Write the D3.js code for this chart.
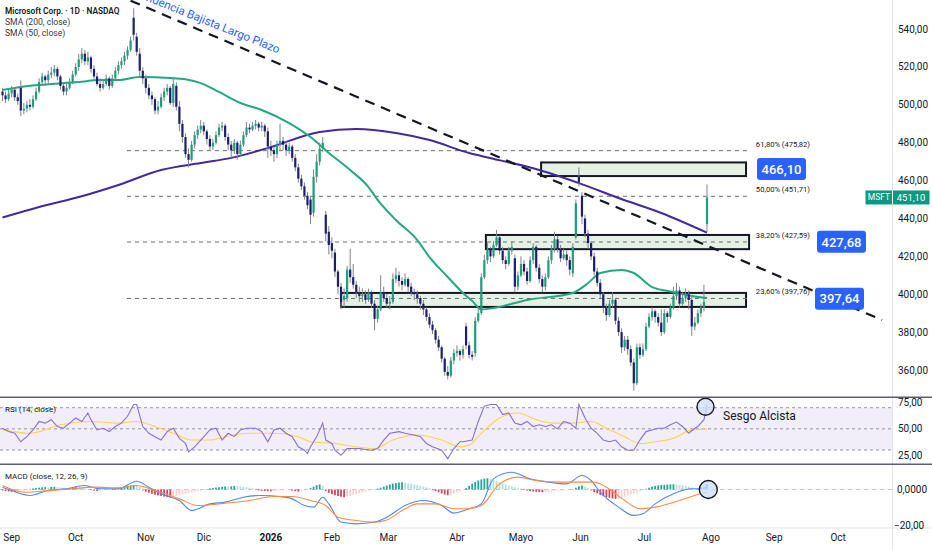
<!DOCTYPE html>
<html>
<head>
<meta charset="utf-8">
<script src="https://cdn.jsdelivr.net/npm/d3@7"></script>
<style>
  html, body { margin: 0; padding: 0; background: #fff; }
  svg { display: block; font-family: Roboto, "Noto Sans", sans-serif; }
</style>
</head>
<body>
<svg id="chart" width="932" height="550"></svg>
<script>
// daily candles, one entry per trading day (Sep 2025 -> end of Jul 2026)
const opens = [
  507,505,503,506,508,504,509,497,498,500, 499,503,507,512,515,513,516,517,519,515,
  510,507,509,512,516,520,524,527,523,525, 519,515,511,509,511,514,510,514,518,521,
  523,526,529,546,536,527,518,514,509,505, 503,497,499,504,507,509,501,510,499,490,
  483,474,471,479,484,487,489,486,482,478, 480,484,488,489,483,479,476,480,474,479,
  484,488,487,489,490,488,489,486,478,476, 474,479,481,479,476,478,472,467,461,457,
  452,450,443,462,470,477,442,433,427,422, 412,404,397,398,413,409,405,401,399,400,
  397,401,395,387,392,401,398,395,396,408, 410,407,405,408,404,401,400,398,395,392,
  388,384,381,376,372,366,359,357,365,369, 370,368,383,373,368,369,386,390,409,418,
  424,420,426,430,423,418,416,423,419,404, 410,416,412,407,418,425,414,408,404,409,
  418,424,429,424,419,421,418,411,430,462, 452,440,432,427,420,412,406,400,393,389,
  395,397,386,380,372,376,371,364,353,372, 368,371,383,388,391,388,385,380,390,388,
  393,399,402,395,398,400,397,383,385,390, 393,437
];
const highs = [
  509,507,508,510,509,506,513,501,502,503, 505,509,514,517,516,518,520,521,520,516,
  512,511,514,518,522,527,530,529,528,526, 521,517,514,513,516,515,516,520,523,525,
  528,531,536,551,538,530,520,516,511,507, 504,502,506,509,511,510,514,512,502,492,
  485,477,481,486,489,492,491,487,484,482, 486,490,491,490,485,481,482,481,481,486,
  491,490,491,492,491,491,490,488,481,478, 481,490,483,481,480,479,474,469,463,459,
  454,452,466,474,480,483,444,436,430,424, 413,406,403,415,424,416,407,404,403,402,
  403,402,397,394,410,404,400,399,411,414, 412,409,411,409,406,403,402,399,397,393,
  390,386,382,378,373,367,362,367,371,373, 371,373,385,375,370,388,393,411,421,427,
  425,428,434,431,425,420,425,428,421,412, 420,418,414,420,427,426,416,410,411,420,
  426,433,431,426,424,423,420,427,450,467, 454,442,434,428,422,414,408,401,395,397,
  401,398,388,382,378,378,373,366,374,374, 374,385,390,393,392,390,392,392,391,395,
  404,406,404,401,403,402,399,388,392,395, 405,458
];
const lows = [
  502,501,502,504,502,500,494,495,496,497, 498,502,506,510,510,511,514,515,513,508,
  505,505,508,511,515,518,522,521,521,517, 513,510,507,508,510,508,509,513,516,519,
  521,524,528,534,526,515,511,506,503,500, 495,495,498,502,505,500,499,497,486,480,
  472,467,470,477,482,485,484,479,476,476, 479,483,486,481,476,472,474,471,473,478,
  483,485,486,487,486,486,483,472,473,470, 472,476,476,473,474,470,465,459,455,450,
  445,437,441,459,468,475,428,421,419,409, 400,392,393,396,406,403,398,396,396,395,
  396,393,381,385,391,396,393,392,395,406, 404,402,404,401,399,397,395,392,389,386,
  382,379,374,370,364,357,355,356,363,367, 365,366,371,366,365,367,385,389,408,416,
  417,419,425,421,416,413,415,421,401,402, 409,410,405,406,416,412,406,401,402,408,
  416,422,422,417,418,415,410,409,429,457, 437,430,424,418,410,404,398,390,386,388,
  393,384,378,369,370,368,362,349,352,366, 367,370,382,386,385,383,378,379,385,387,
  392,397,393,394,396,392,378,381,384,388, 391,433
];
const closes = [
  505,503,506,508,504,502,497,498,500,499, 503,507,512,515,513,516,517,519,515,510,
  507,509,512,516,520,524,527,523,525,519, 515,511,509,511,514,510,514,518,521,523,
  526,529,534,537,528,518,514,509,505,503, 497,499,504,507,509,501,511,499,490,483,
  474,471,479,484,487,489,486,482,478,480, 484,488,489,483,479,476,480,474,479,484,
  488,487,489,490,488,489,486,478,476,474, 479,481,479,476,478,472,467,461,457,452,
  447,442,462,470,477,480,432,426,423,412, 404,396,399,413,409,405,401,399,400,397,
  401,395,387,392,401,398,395,396,408,410, 407,405,408,404,401,400,398,395,392,388,
  384,381,376,372,366,359,357,365,369,370, 368,371,373,368,367,386,390,409,418,424,
  420,426,430,423,418,416,423,425,404,410, 416,412,407,418,425,414,408,404,409,418,
  424,429,424,419,421,418,413,425,448,459, 441,432,427,420,412,406,400,393,389,395,
  397,386,380,372,376,371,364,353,372,368, 371,383,388,391,388,385,380,390,388,393,
  399,402,395,398,400,397,383,385,390,393, 396,451.1
];

// moving averages as [bar, value]
const sma200 = [[0,440.5],[12,446.1],[25,451.3],[38,457.7],[52,465.6],[65,469.3],[75,472],[88,477.7],
  [104,485.7],[116,487.2],[129,485.1],[140,481.4],[153,474.6],[157,473],[176,465.6],[189,458.7],
  [202,450.8],[216,442.9],[231,432.5]];
const sma50 = [[0,507.8],[6,509.4],[12,510.5],[25,512.1],[32,513.1],[38,513.1],[45,514.7],[55,514.2],
  [60,513.5],[65,511.5],[71,506.8],[78,501],[85,497.3],[94,490.4],[101,483],[107,474.6],[114,465.6],
  [120,456.6],[123,449.8],[129,439.2],[136,428.6],[140,419.6],[146,409.1],[151,400.7],[154,396.5],
  [157,392],[161,392.7],[172,397],[187,400.7],[192,405.9],[196,411.2],[203,412.8],[207,411.2],
  [213,403.8],[220,401.2],[226,399.1],[231,398]];

// RSI (14) and its moving average
const rsi = [[0,50.6],[2,47.4],[4,45.8],[6,37.8],[8,42.6],[10,49],[12,57],[14,55.4],[16,58.7],[18,52.2],
  [20,50.6],[22,55.4],[24,60.3],[26,57],[28,65],[29,58.7],[31,49],[33,50.6],[35,47.4],[37,52.2],
  [39,55.4],[41,61.9],[43,73],[44,73],[46,52.2],[48,45.8],[50,42.6],[52,39.4],[54,47.4],[56,50.6],
  [58,41],[60,36.2],[61,28.2],[63,33],[65,39.4],[67,45.8],[68,49],[70,50.6],[72,39.4],[74,45.8],
  [76,42.6],[78,49],[80,50.6],[83,50.6],[85,47.4],[87,37.8],[89,49],[91,50.6],[93,45.8],[95,42.6],
  [97,33],[99,29.8],[100,26.6],[101,33],[103,42.6],[105,55.4],[106,39.4],[108,36.2],[109,29.8],
  [111,25],[113,31.4],[115,31.4],[117,31.4],[119,30.4],[121,29.8],[123,31.4],[125,39.4],[127,45.8],
  [130,47.4],[132,45.8],[135,44.2],[137,42.6],[139,36.2],[141,33],[144,29.8],[146,21.8],[148,31.4],
  [150,37.8],[151,37.8],[154,39.4],[156,57],[158,71.5],[160,73],[162,73],[164,63.5],[166,65],
  [168,55.4],[170,53.8],[172,57],[174,52.2],[176,53.8],[178,52.2],[180,53.8],[182,50],[184,57],
  [186,55.4],[188,50.6],[189,73],[191,60.3],[193,50.6],[195,45.8],[197,39.4],[199,37.8],[201,39.4],
  [203,33],[205,29.8],[207,29.8],[209,39.4],[211,47.4],[213,49],[215,50.6],[217,50.6],[219,53.8],
  [221,56.4],[223,52.2],[225,45.8],[227,50.6],[228,52.2],[230,58.7],[231,73]];
const rsiMa = [[0,49],[9,45.8],[19,53.8],[29,57],[38,55.4],[44,57],[50,52.2],[56,45.8],[62,39.4],
  [68,39.4],[73,42.6],[81,45.8],[89,45.8],[97,42.6],[101,37.8],[109,36.2],[116,33],[122,31.4],
  [128,39.4],[136,44.2],[144,39.4],[150,33],[153,34.6],[157,45.8],[163,60.3],[169,65],[175,58.7],
  [181,55.4],[187,55.4],[193,57],[198,50.6],[204,42.6],[209,36.2],[214,37.8],[220,41],[226,49],[231,49.7]];

// MACD (12, 26, 9)
const macdLine = [[0,1.3],[3,-0.6],[9,-3.3],[15,-0.6],[21,0.4],[27,2.2],[32,0.4],[38,0.4],[44,4.6],
  [48,1.3],[52,-2.4],[58,-6.1],[62,-11.7],[68,-8],[73,-7],[79,-4.3],[85,-3.3],[91,-3.9],[95,-5.2],
  [99,-8.9],[102,-9.8],[105,-4.3],[107,-8],[111,-18.1],[116,-19.1],[122,-18.1],[126,-15.4],
  [132,-8.9],[138,-6.1],[144,-8.9],[148,-13.1],[153,-10.7],[157,-8],[161,5.9],[167,9.6],[173,5.9],
  [179,4.1],[185,3.1],[190,7.8],[193,5],[196,-1.5],[202,-9.8],[207,-14.4],[210,-13.5],[214,-8],
  [220,-2.4],[226,0.4],[230,0.4],[231,3.1]];
const signalLine = [[0,2.2],[7,-1.5],[15,-0.6],[23,0.4],[30,1.3],[38,0.9],[44,2.2],[50,-0.6],[58,-5.2],
  [64,-8.9],[71,-8],[81,-6.1],[89,-3.9],[95,-3.9],[101,-6.1],[106,-8.9],[110,-15.4],[116,-17.2],
  [122,-18.1],[126,-16.9],[132,-10.7],[136,-8],[142,-8],[148,-10.7],[153,-10.7],[157,-8.9],[163,3.1],
  [169,6.9],[175,5],[183,4.1],[189,4.1],[194,4.1],[198,1.3],[204,-6.1],[209,-10.7],[214,-9.8],
  [222,-6.1],[228,-2.8],[231,-1.5]];
const macdHist = [
  -0.5,-0.8,-1,-1.2,-1.3,-1.2,-1,-0.8,-0.5,
  0.3,0.6,0.8,1,1.2,1.3,1.2,1.4,1.5,1.3,1.2,1.0,0.8,0.9,1.1,1.3,1.2,
  0.9,0.6,0.3,-0.3,-0.6,-0.8,-0.6,-0.4,-0.2,0.2,0.5,0.8,1.0,
  1.3,1.6,1.9,2.2,2.4,2.0,1.4,
  -0.5,-1.2,-1.8,-2.4,-2.9,-3.3,-3.6,-3.9,-4.2,-4.4,-4.0,-3.6,-3.2,-2.8,-2.4,
  -2.0,-1.6,-1.2,-0.9,-0.6,-0.3,0.3,0.6,0.9,1.1,
  1.3,1.5,1.7,1.6,1.8,2.0,1.9,1.7,1.5,1.3,1.0,0.7,
  -0.3,-0.5,-0.7,-0.8,-0.9,-1.0,-0.9,-0.8,-0.7,-0.6,-0.5,-0.4,-0.6,-0.9,-1.2,-1.0,-0.6,-0.2,
  0.8,1.6,2.4,2.8,2.0,
  -0.8,-1.8,-2.6,-3.2,-3.6,-4.0,-4.3,-3.9,-3.5,-3.0,-2.5,-2.0,-1.5,
  -1.0,-0.6,-0.3,0.2,0.5,
  1.0,1.6,2.2,2.8,3.3,3.6,3.9,4.0,3.8,3.5,3.2,2.8,2.4,2.0,1.6,1.2,0.8,
  -0.4,-0.9,-1.5,-2.2,-2.8,-3.2,-2.8,-2.2,-1.6,-1.0,
  -0.3,0.8,2.0,3.2,4.2,5.0,5.6,6.0,6.2,5.8,5.2,4.6,4.0,3.4,2.8,2.2,1.8,1.3,0.9,0.5,
  -0.3,-0.6,-0.9,-1.1,-1.3,-1.4,-1.5,-1.4,-1.3,-1.1,-0.9,-0.8,-0.7,-0.6,-0.5,-0.3,0.2,
  1.0,1.8,2.2,1.6,0.8,
  -0.5,-1.4,-2.2,-3.0,-3.6,-4.2,-4.6,-5.0,-5.2,-5.0,-4.6,-4.0,-3.4,-2.8,-2.2,-1.6,-1.0,-0.4,
  0.4,1.0,1.6,2.0,2.3,2.5,2.6,2.7,2.8,2.9,2.8,2.6,2.3,1.9,1.5,1.1,
  0.8,0.6,0.9,1.5,2.8
];

// time axis: month labels at bar positions
const monthLabels = ['Sep','Oct','Nov','Dic','2026','Feb','Mar','Abr','Mayo','Jun','Jul','Ago','Sep','Oct'];
const monthBars = [3,24,47,66,88,108,126.5,149,170,189.5,210.5,232.3,253,274];

// fibonacci retracement levels
const fibNames = ['61,80%','50,00%','38,20%','23,60%'];
const fibLevels = [475.82,451.71,427.59,397.76];
const fibFrom = 40.8, fibTo = 244.4;

// support / resistance zones
const zoneLow = [462.4,423.8,393.3];
const zoneHigh = [469.6,431.3,400.7];
const zoneFrom = [176.6,158.5,111];
const zoneTo = [243.8,244.8,243.8];
const zoneLabel = [466.10,427.68,397.64];

// long term down trend line [bar, price]
const trendLine = [[42,555],[288.4,386.4]];
const lastPrice = 451.10;

const priceTicks = [360,380,400,420,440,460,480,500,520,540];
const rsiTicks = [25,50,75];
const macdTicks = [0,-20];

// ------------------------------------------------------------------
const svg = d3.select('#chart');
const plotRight = 892.5;
const paneTop = [0, 397.3, 464.3];
const paneBottom = [397.3, 464.3, 528];
const comma = d3.formatLocale({decimal: ',', thousands: '.', grouping: [3], currency: ['', '']});
const f2 = comma.format('.2f');
const f4 = comma.format('.4f');

const x = d3.scaleLinear().domain([0, 231]).range([2.5, 707]);
const yP = d3.scaleLinear().domain([360, 540]).range([370, 29.1]);
const yR = d3.scaleLinear().domain([30, 70]).range([450, 407.7]);
const yM = d3.scaleLinear().domain([-20, 0]).range([525.5, 489.5]);

const defs = svg.append('defs');
['price', 'rsi', 'macd'].forEach((id, k) => {
  defs.append('clipPath').attr('id', 'clip-' + id)
    .append('rect').attr('x', 0).attr('y', paneTop[k])
    .attr('width', plotRight).attr('height', paneBottom[k] - paneTop[k]);
});

// ---------------- price pane ----------------
const gP = svg.append('g').attr('clip-path', 'url(#clip-price)');

// zones
gP.selectAll('rect.zone')
  .data(zoneLow)
  .enter().append('rect')
  .attr('class', 'zone')
  .attr('x', (d, k) => x(zoneFrom[k]))
  .attr('y', (d, k) => yP(zoneHigh[k]))
  .attr('width', (d, k) => x(zoneTo[k]) - x(zoneFrom[k]))
  .attr('height', (d, k) => yP(d) - yP(zoneHigh[k]))
  .attr('fill', '#e4f1e4')
  .attr('stroke', '#131722')
  .attr('stroke-width', 2);

// fib levels
gP.selectAll('line.fib')
  .data(fibLevels)
  .enter().append('line')
  .attr('x1', x(fibFrom)).attr('x2', x(fibTo))
  .attr('y1', d => yP(d)).attr('y2', d => yP(d))
  .attr('stroke', '#6a6d78').attr('stroke-width', 1)
  .attr('stroke-dasharray', '4,4');

gP.selectAll('text.fib')
  .data(fibLevels)
  .enter().append('text')
  .attr('x', x(fibTo) + 8)
  .attr('y', d => yP(d) - 4)
  .attr('font-size', 7.6)
  .attr('fill', '#131722')
  .text((d, k) => `${fibNames[k]} (${f2(d)})`);

// moving averages
const avgLine = (ys) => d3.line().x(d => x(d[0])).y(d => ys(d[1])).curve(d3.curveMonotoneX);
gP.append('path').datum(sma200).attr('d', avgLine(yP))
  .attr('fill', 'none').attr('stroke', '#4527a0').attr('stroke-width', 2);
gP.append('path').datum(sma50).attr('d', avgLine(yP))
  .attr('fill', 'none').attr('stroke', '#22a884').attr('stroke-width', 2);

// candles
const candles = gP.append('g').selectAll('g')
  .data(closes)
  .enter().append('g');
candles.append('line')
  .attr('x1', (d, i) => x(i)).attr('x2', (d, i) => x(i))
  .attr('y1', (d, i) => yP(highs[i])).attr('y2', (d, i) => yP(lows[i]))
  .attr('stroke', '#80838d').attr('stroke-width', 1);
candles.append('rect')
  .attr('x', (d, i) => x(i) - 1.1)
  .attr('width', 2.2)
  .attr('y', (d, i) => yP(Math.max(opens[i], d)))
  .attr('height', (d, i) => Math.max(1, Math.abs(yP(opens[i]) - yP(d))))
  .attr('fill', (d, i) => d >= opens[i] ? '#1f9e7c' : '#1c1f6e');

// trend line + caption
gP.append('line')
  .attr('x1', x(trendLine[0][0])).attr('y1', yP(trendLine[0][1]))
  .attr('x2', x(trendLine[1][0])).attr('y2', yP(trendLine[1][1]))
  .attr('stroke', '#131722').attr('stroke-width', 2.2)
  .attr('stroke-dasharray', '10,7');
gP.append('text')
  .attr('transform', 'translate(278,53.5) rotate(21.8)')
  .attr('text-anchor', 'end')
  .attr('font-size', 11.6)
  .attr('fill', '#2962ff')
  .text('Tendencia Bajista Largo Plazo');

// zone value badges
const badgeLeft = [757, 817, 815];
const badges = svg.append('g').selectAll('g')
  .data(zoneLabel)
  .enter().append('g')
  .attr('transform', (d, k) => `translate(${badgeLeft[k]},${yP(d)})`);
badges.append('rect')
  .attr('x', 0).attr('y', -11).attr('width', 49).attr('height', 22).attr('rx', 3)
  .attr('fill', '#2962ff');
badges.append('text')
  .attr('x', 24.5).attr('y', 0).attr('dy', '0.36em')
  .attr('text-anchor', 'middle')
  .attr('font-size', 13).attr('font-weight', 500)
  .attr('fill', '#fff')
  .text(d => f2(d));

// legend
const legend = svg.append('g').attr('fill', '#131722');
legend.append('text').attr('x', 5).attr('y', 13.5).attr('font-size', 8.3).attr('font-weight', 600)
  .text('Microsoft Corp. · 1D · NASDAQ');
legend.append('text').attr('x', 5).attr('y', 25).attr('font-size', 8.6).attr('fill', '#363a45')
  .text('SMA (200, close)');
legend.append('text').attr('x', 5).attr('y', 36).attr('font-size', 8.6).attr('fill', '#363a45')
  .text('SMA (50, close)');

// ---------------- RSI pane ----------------
const gR = svg.append('g').attr('clip-path', 'url(#clip-rsi)');
gR.append('rect')
  .attr('x', 0).attr('width', plotRight)
  .attr('y', yR(70)).attr('height', yR(30) - yR(70))
  .attr('fill', '#7e57c2').attr('fill-opacity', 0.1);
gR.selectAll('line.lvl')
  .data([70, 50, 30])
  .enter().append('line')
  .attr('x1', 0).attr('x2', plotRight)
  .attr('y1', d => yR(d)).attr('y2', d => yR(d))
  .attr('stroke', '#9598a1').attr('stroke-width', 1).attr('stroke-dasharray', '3,3');
// highlight circle sits under the indicator lines
svg.append('circle').attr('cx', x(231) - 1.5).attr('cy', 406.7).attr('r', 8.5)
  .attr('fill', '#cfdff9').attr('fill-opacity', 0.8)
  .attr('stroke', '#131722').attr('stroke-width', 1.4);
gR.append('path').datum(rsiMa).attr('d', avgLine(yR))
  .attr('fill', 'none').attr('stroke', '#fbd34d').attr('stroke-width', 1.1);
gR.append('path').datum(rsi)
  .attr('d', d3.line().x(d => x(d[0])).y(d => yR(d[1])))
  .attr('fill', 'none').attr('stroke', '#8a6fcf').attr('stroke-width', 1.1);
svg.append('text').attr('x', 5).attr('y', 412).attr('font-size', 8).attr('fill', '#131722')
  .text('RSI (14, close)');

// ---------------- MACD pane ----------------
const gM = svg.append('g').attr('clip-path', 'url(#clip-macd)');
gM.append('line')
  .attr('x1', 0).attr('x2', plotRight).attr('y1', yM(0)).attr('y2', yM(0))
  .attr('stroke', '#c3c5cc').attr('stroke-width', 1).attr('stroke-dasharray', '4,4');
svg.append('circle').attr('cx', x(231) + 1.3).attr('cy', yM(0)).attr('r', 9)
  .attr('fill', '#cfdff9').attr('fill-opacity', 0.8)
  .attr('stroke', '#131722').attr('stroke-width', 1.4);
gM.selectAll('rect.hist')
  .data(macdHist)
  .enter().append('rect')
  .attr('x', (d, i) => x(i) - 0.9)
  .attr('width', 1.8)
  .attr('y', d => Math.min(yM(d), yM(0)))
  .attr('height', d => Math.abs(yM(d) - yM(0)))
  .attr('fill', (d, i) => {
    const prev = i > 0 ? macdHist[i - 1] : d;
    if (d >= 0) return d >= prev ? '#26a69a' : '#b2dfdb';
    return d <= prev ? '#e0405f' : '#ffcdd2';
  });
gM.append('path').datum(macdLine).attr('d', avgLine(yM))
  .attr('fill', 'none').attr('stroke', '#4f86f7').attr('stroke-width', 1.1);
gM.append('path').datum(signalLine).attr('d', avgLine(yM))
  .attr('fill', 'none').attr('stroke', '#ff8a3d').attr('stroke-width', 1.1);
svg.append('text').attr('x', 5).attr('y', 479).attr('font-size', 8).attr('fill', '#131722')
  .text('MACD (close, 12, 26, 9)');

svg.append('text').attr('x', 723).attr('y', 420).attr('font-size', 12).attr('fill', '#131722')
  .text('Sesgo Alcista');

// ---------------- frame & axes ----------------
svg.append('line').attr('x1', plotRight).attr('x2', plotRight).attr('y1', 0).attr('y2', 550)
  .attr('stroke', '#e0e3eb');
svg.append('line').attr('x1', 0).attr('x2', 932).attr('y1', 528).attr('y2', 528)
  .attr('stroke', '#e0e3eb');
[397.3, 464.3].forEach(y => {
  svg.append('line').attr('x1', 0).attr('x2', 932).attr('y1', y).attr('y2', y)
    .attr('stroke', '#5d606b').attr('stroke-width', 1.6);
});

const axisText = svg.append('g').attr('font-size', 10).attr('fill', '#131722');
axisText.selectAll('text.p')
  .data(priceTicks)
  .enter().append('text')
  .attr('x', 898).attr('y', d => yP(d)).attr('dy', '0.35em')
  .text(d => f2(d));
axisText.selectAll('text.r')
  .data(rsiTicks)
  .enter().append('text')
  .attr('x', 898).attr('y', d => yR(d)).attr('dy', '0.35em')
  .text(d => f2(d));
axisText.selectAll('text.m')
  .data(macdTicks)
  .enter().append('text')
  .attr('x', d => d === 0 ? 897 : 894).attr('y', d => yM(d)).attr('dy', '0.35em')
  .text(d => d === 0 ? f4(d) : f2(d).replace('-', '\u2212'));
axisText.selectAll('text.t')
  .data(monthLabels)
  .enter().append('text')
  .attr('x', (d, k) => x(monthBars[k]))
  .attr('y', 541)
  .attr('text-anchor', 'middle')
  .attr('font-weight', d => d === '2026' ? 700 : 400)
  .text(d => d);

// last price tag
const tag = svg.append('g').attr('transform', `translate(0,${yP(lastPrice)})`);
tag.append('rect').attr('x', 865.5).attr('y', -7).attr('width', 64).attr('height', 14)
  .attr('fill', '#089981');
tag.append('line').attr('x1', plotRight).attr('x2', plotRight).attr('y1', -7).attr('y2', 7)
  .attr('stroke', '#fff');
tag.append('text').attr('x', 879).attr('y', 0).attr('dy', '0.35em').attr('text-anchor', 'middle')
  .attr('font-size', 8.5).attr('fill', '#fff').text('MSFT');
tag.append('text').attr('x', 911).attr('y', 0).attr('dy', '0.35em').attr('text-anchor', 'middle')
  .attr('font-size', 9.5).attr('fill', '#fff').text(f2(lastPrice));
</script>
</body>
</html>
